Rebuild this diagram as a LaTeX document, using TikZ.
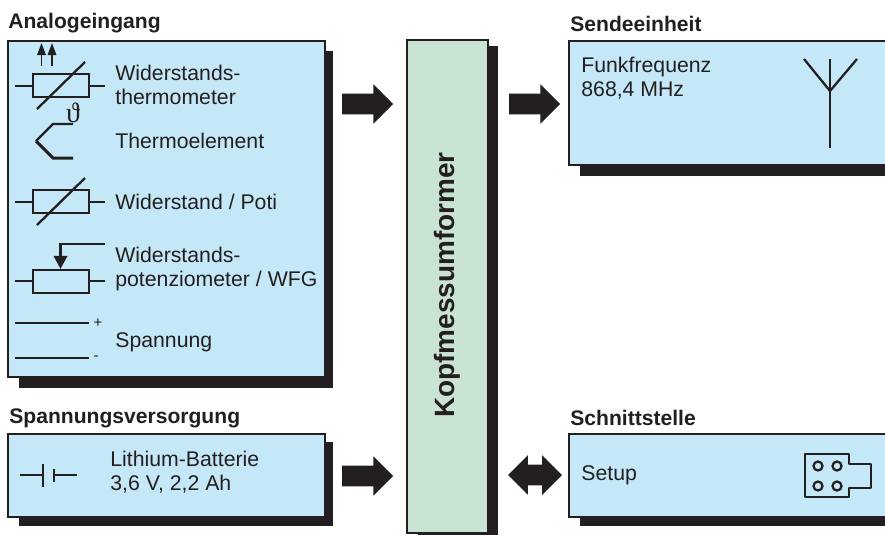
\documentclass[tikz,border=0pt]{standalone}
\usepackage{fontspec}
\setmainfont{Liberation Sans}
\newfontfamily\thetafont{Liberation Serif}
\usetikzlibrary{positioning,arrows.meta,fit,shapes.arrows}
\definecolor{boxblue}{HTML}{C5E8F9}
\definecolor{boxgreen}{HTML}{C9E4D3}
\definecolor{inkdark}{HTML}{231F20}
\begin{document}
\begin{tikzpicture}[
  x=0.02cm, y=-0.02cm, line join=miter,
  every node/.style={text=inkdark, inner sep=0pt},
  panel/.style={draw=inkdark, line width=1.2pt, fill=boxblue, inner sep=0pt},
  shade/.style={fill=inkdark, draw=none, inner sep=0pt},
  head/.style={font=\fontsize{12}{14}\selectfont\bfseries, anchor=west},
  lbl/.style={font=\fontsize{12.1}{13.6}\selectfont, anchor=west, align=left},
  sym/.style={draw=inkdark, line width=1.3pt},
  blockarr/.style={single arrow, fill=inkdark, minimum height=1.02cm, inner sep=2mm,
    single arrow head extend=1.9mm, single arrow tip angle=90},
  blockdbl/.style={double arrow, fill=inkdark, minimum height=1.08cm, inner sep=2mm,
    double arrow head extend=1.9mm, double arrow tip angle=90},
  tinyarr/.style={-{Triangle[length=2.4mm,width=1.7mm]}, sym, line width=0.9pt},
  wiperarr/.style={-{Triangle[length=2.6mm,width=2.7mm]}, sym}
]
  \clip (0,0) rectangle (885,535);
  \useasboundingbox (0,0) rectangle (885,535);

  % --- Shadows ---
  \node[shade, fit={(19,51) (333,388)}]   (anashade) {};
  \node[shade, fit={(19,442) (333,526)}]  (supshade) {};
  \node[shade, fit={(418,46) (498,535)}]  (conshade) {};
  \node[shade, fit={(580,51) (895,176)}]  (sendshade) {};
  \node[shade, fit={(580,442) (895,526)}] (ifshade) {};

  % --- Boxes ---
  \node[panel, fit={(8,41) (325,377)}]  (ana)  {};
  \node[panel, fit={(8,434) (325,517)}] (sup)  {};
  \node[panel, fill=boxgreen, fit={(407,40) (488,533)}] (conv) {};
  \node[panel, fit={(569,41) (895,165)}] (send) {};
  \node[panel, fit={(569,434) (895,517)}] (iface) {};

  \node[rotate=90, font=\fontsize{15.9}{18}\selectfont\bfseries] (convlabel) at (conv.center |- 0,285) {Kopfmessumformer};

  % --- Headings ---
  \node[head] (anahead)  at (8,23)   {Analogeingang};
  \node[head] (suphead)  at (9,418)  {Spannungsversorgung};
  \node[head] (sendhead) at (570,24) {Sendeeinheit};
  \node[head] (ifhead)   at (570,418) {Schnittstelle};

  % --- Block arrows ---
  \node[blockarr] (anaarr)  at (362.5,104) {};
  \node[blockarr] (sendarr) at (529.5,104) {};
  \node[blockarr] (suparr)  at (362.5,476) {};
  \node[blockdbl] (ifarr)   at (535,475)   {};

  % --- Widerstandsthermometer ---
  \node[sym, fit={(33,74) (89,97)}] (rtd) {};
  \coordinate (rtdl) at (15,86);
  \coordinate (rtdr) at (105,86);
  \draw[sym] (rtdl) -- (rtd.west |- rtdl);
  \draw[sym] (rtd.east |- rtdr) -- (rtdr);
  \draw[sym] (37,109) -- (85,62);
  \draw[tinyarr] (41.5,66) -- (41.5,43);
  \draw[tinyarr] (52,66) -- (52,43);
  \node[lbl] (rtdtext) at (115,85) {Widerstands-\\thermometer};

  % --- Thermoelement ---
  \node[font=\fontsize{16}{18}\thetafont] (theta) at (73,113) {ϑ};
  \draw[sym] (73,124) -- (53,124) -- (36,141);
  \draw[sym, line width=1.7pt] (36,141) -- (53,158) -- (73,158);
  \node[lbl] (tetext) at (115,141) {Thermoelement};

  % --- Widerstand / Poti ---
  \node[sym, fit={(33,190) (89,213)}] (res) {};
  \coordinate (resl) at (15,202);
  \coordinate (resr) at (105,202);
  \draw[sym] (resl) -- (res.west |- resl);
  \draw[sym] (res.east |- resr) -- (resr);
  \draw[sym] (37,225) -- (85,178);
  \node[lbl] (restext) at (115,202) {Widerstand / Poti};

  % --- Potenziometer ---
  \node[sym, fit={(33,270) (89,293)}] (pot) {};
  \coordinate (potl) at (15,281);
  \coordinate (potr) at (105,281);
  \coordinate (wiper) at (105,244);
  \draw[sym] (potl) -- (pot.west |- potl);
  \draw[sym] (pot.east |- potr) -- (potr);
  \draw[wiperarr] (wiper) -| (pot.north -| 60.5,0);
  \node[lbl] (pottext) at (115,269) {Widerstands-\\potenziometer / WFG};

  % --- Spannung ---
  \node[font=\fontsize{8.5}{10}\selectfont] (plus)  at (98,323) {+};
  \node[font=\fontsize{8.5}{10}\selectfont] (minus) at (96,358) {-};
  \coordinate (plusl) at (15,323);
  \coordinate (minusl) at (15,358);
  \draw[sym] (plusl) -- (89,323);
  \draw[sym] (minusl) -- (89,358);
  \node[lbl] (volttext) at (115,342) {Spannung};

  % --- Batterie ---
  \coordinate (batl) at (20,475);
  \coordinate (batr) at (77,475);
  \coordinate (platea) at (43,475);
  \coordinate (plateb) at (54,475);
  \draw[sym] (batl) -- (platea);
  \draw[sym] (43,464) -- (43,487);
  \draw[sym] (plateb) -- (batr);
  \draw[sym] (54,469) -- (54,482);
  \node[lbl] (battext) at (110,472) {Lithium-Batterie\\3,6 V, 2,2 Ah};

  % --- Antenne ---
  \draw[sym] (830,59) -- (830,148);
  \draw[sym] (804,59) -- (830,91) -- (857,59);
  \node[lbl] (rftext) at (581,78) {Funkfrequenz\\868,4 MHz};

  % --- Stecker ---
  \node[lbl] (setuptext) at (581,475) {Setup};
  \draw[sym, line join=round] (805,454) -- (849,454) -- (849,464) -- (871,464)
    -- (871,488) -- (849,488) -- (849,497) -- (805,497) -- cycle;
  \foreach \px in {818,837}
    \foreach \py in {466,486}
      \draw[sym] (\px,\py) circle (4.5);
\end{tikzpicture}
\end{document}
